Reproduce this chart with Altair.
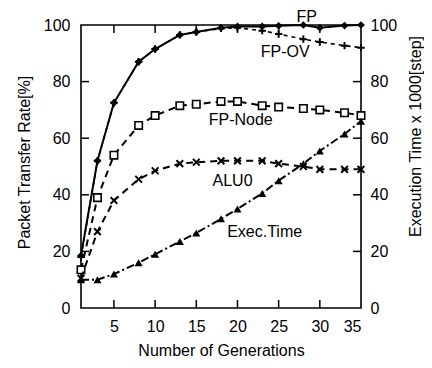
import altair as alt
import pandas as pd

# ---- data ----
gens = [1, 3, 5, 8, 10, 13, 15, 18, 20, 23, 25, 28, 30, 33, 35]
fp = [18.5, 52, 72.5, 87, 91.5, 96.5, 97.5, 99, 99.5, 99.5, 99.7, 100, 99, 99.8, 100]
fp_ov = [18, 52, 72.5, 87, 91.5, 96.5, 97.5, 98.8, 99, 98, 96.8, 95, 94, 92.7, 92]
fp_node = [13.5, 39, 54, 64.5, 68, 71.5, 72, 73, 73, 71.5, 71, 70.5, 70, 69, 68]
alu0 = [10.5, 27, 38, 45.5, 48.5, 51, 51.5, 52, 52, 52, 51, 50, 49, 49, 49]
exec_time = [10, 10, 12, 16, 19, 23.5, 26.5, 31.5, 35, 40.5, 45, 51, 55.5, 61.5, 66]

x_ticks = [5, 10, 15, 20, 25, 30, 35]
y_ticks = [0, 20, 40, 60, 80, 100]
inner_x_ticks = [5, 10, 15, 20, 25, 30]
inner_y_ticks = [20, 40, 60, 80]

labels = ["FP", "FP-OV", "FP-Node", "ALU0", "Exec.Time"]
label_x = [28.4, 25.8, 20.4, 19.4, 23.3]
label_y = [103.0, 90.3, 66.3, 45.0, 26.7]

FONT = "Liberation Sans"
W, H = 280, 283

df = pd.DataFrame({"gen": gens, "FP": fp, "FPOV": fp_ov, "FPNode": fp_node,
                   "ALU0": alu0, "Exec": exec_time})
lab_df = pd.DataFrame({"label": labels, "lx": label_x, "ly": label_y})
xt_df = pd.DataFrame({"t": inner_x_ticks})
yt_df = pd.DataFrame({"t": inner_y_ticks})

xs = alt.Scale(domain=[1, 35], nice=False, zero=False)
ys = alt.Scale(domain=[0, 100], nice=False)

axis_common = dict(ticks=False, domain=False, grid=False, labelFont=FONT, labelFontSize=16,
                   labelColor="black", titleFont=FONT, titleFontSize=16,
                   titleFontWeight="normal", titleColor="black")

x_enc = alt.X("gen:Q", scale=xs,
              axis=alt.Axis(values=x_ticks, title="Number of Generations",
                            labelPadding=10, titleX=140, titleY=42,
                            titleBaseline="middle", titleAlign="center", **axis_common))

left_axis = alt.Axis(values=y_ticks, title="Packet Transfer Rate[%]", orient="left",
                     labelPadding=11, titleX=-57, titleY=137, titleAngle=270,
                     titleAlign="center", titleBaseline="middle", **axis_common)
right_axis = alt.Axis(values=y_ticks, title="Execution Time x 1000[step]", orient="right",
                      labelPadding=9, titleX=54, titleY=111, titleAngle=270,
                      titleAlign="center", titleBaseline="middle", **axis_common)

base = alt.Chart(df)

PLUS = "M-1,0L1,0M0,-1L0,1"
XMARK = "M-1,-1L1,1M1,-1L-1,1"


def xq(field):
    return alt.X(field + ":Q", scale=xs, axis=None)


def yq(field):
    return alt.Y(field + ":Q", scale=ys, axis=None)


layers = []
# FP (solid) -> carries x and left y axes
layers.append(base.mark_line(color="black", strokeWidth=2).encode(
    x=x_enc, y=alt.Y("FP:Q", scale=ys, axis=left_axis)))
# Exec.Time line -> carries right y axis
layers.append(base.mark_line(color="black", strokeWidth=2, strokeDash=[8, 3, 2, 3]).encode(
    x=xq("gen"), y=alt.Y("Exec:Q", scale=ys, axis=right_axis)))

layers.append(base.mark_point(shape="diamond", filled=True, color="black", size=60, opacity=1).encode(
    x=xq("gen"), y=yq("FP")))
# FP-OV (short dashes, plus markers)
layers.append(base.mark_line(color="black", strokeWidth=1.6, strokeDash=[4, 4]).encode(
    x=xq("gen"), y=yq("FPOV")))
layers.append(base.mark_point(shape=PLUS, filled=False, color="black", size=55, strokeWidth=2, opacity=1).encode(
    x=xq("gen"), y=yq("FPOV")))
# FP-Node (dashed, open squares)
layers.append(base.mark_line(color="black", strokeWidth=2, strokeDash=[7, 5]).encode(
    x=xq("gen"), y=yq("FPNode")))
layers.append(base.mark_point(shape="square", filled=True, fill="white", stroke="black",
                              strokeWidth=1.6, size=55, opacity=1).encode(
    x=xq("gen"), y=yq("FPNode")))
# ALU0 (dashed, x markers)
layers.append(base.mark_line(color="black", strokeWidth=2, strokeDash=[7, 5]).encode(
    x=xq("gen"), y=yq("ALU0")))
layers.append(base.mark_point(shape=XMARK, filled=False, color="black", size=45, strokeWidth=2, opacity=1).encode(
    x=xq("gen"), y=yq("ALU0")))
# Exec.Time markers
layers.append(base.mark_point(shape="triangle-up", filled=True, color="black", size=65, opacity=1).encode(
    x=xq("gen"), y=yq("Exec")))

# inward ticks
tick_style = dict(color="black", strokeWidth=1.5)
layers.append(alt.Chart(xt_df).mark_rule(**tick_style).encode(
    x=xq("t"), y=alt.value(H), y2=alt.value(H - 8)))
layers.append(alt.Chart(xt_df).mark_rule(**tick_style).encode(
    x=xq("t"), y=alt.value(0), y2=alt.value(8)))
layers.append(alt.Chart(yt_df).mark_rule(**tick_style).encode(
    y=yq("t"), x=alt.value(0), x2=alt.value(8)))
layers.append(alt.Chart(yt_df).mark_rule(**tick_style).encode(
    y=yq("t"), x=alt.value(W), x2=alt.value(W - 8)))

# curve labels
layers.append(alt.Chart(lab_df).mark_text(font=FONT, fontSize=16, color="black",
                                          align="center", baseline="middle").encode(
    x=xq("lx"), y=yq("ly"), text="label:N"))

chart = alt.layer(*layers).resolve_scale(x="independent", y="independent").properties(
    width=W, height=H,
    padding={"left": 73, "top": 17, "right": 63, "bottom": 52},
    autosize=alt.AutoSizeParams(type="none"),
    background="white",
).configure_view(
    stroke="black", strokeWidth=1.6
)

chart.save("out.html", embed_options={"renderer": "svg", "actions": False})
